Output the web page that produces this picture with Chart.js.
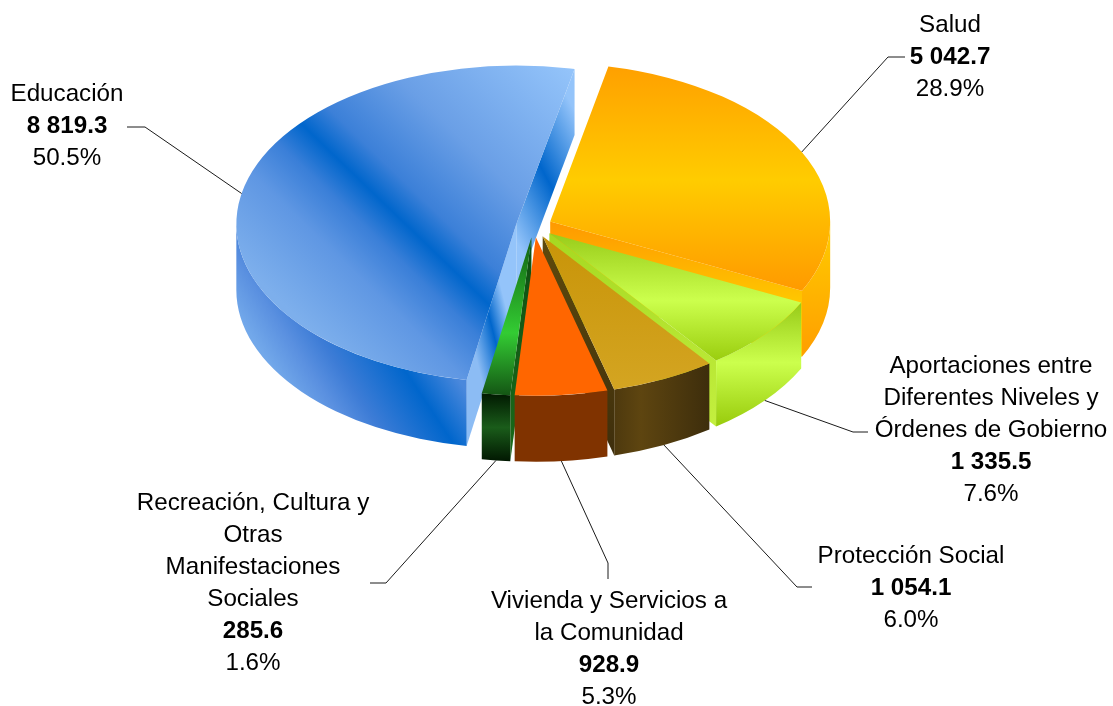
<!DOCTYPE html>
<html>
<head>
<meta charset="utf-8">
<title>Gasto por función</title>
<style>
  html, body { margin: 0; padding: 0; background: #fff; }
  canvas { display: block; }
</style>
<script src="https://cdn.jsdelivr.net/npm/chart.js@4/dist/chart.umd.js"></script>
</head>
<body>
<canvas id="pie" width="1113" height="706"></canvas>
<script>
// Data, clockwise from the Salud slice
const categories = ['Salud', 'Aportaciones entre Diferentes Niveles y Órdenes de Gobierno', 'Protección Social', 'Vivienda y Servicios a la Comunidad', 'Recreación, Cultura y Otras Manifestaciones Sociales', 'Educación'];
const amounts = [5042.7, 1335.5, 1054.1, 928.9, 285.6, 8819.3];
const percents = ['28.9%', '7.6%', '6.0%', '5.3%', '1.6%', '50.5%'];
const nameLines = [
    ['Salud'],
    ['Aportaciones entre', 'Diferentes Niveles y', 'Órdenes de Gobierno'],
    ['Protección Social'],
    ['Vivienda y Servicios a', 'la Comunidad'],
    ['Recreación, Cultura y', 'Otras', 'Manifestaciones', 'Sociales'],
    ['Educación']
];

// Look of the pie
const ROTATION = 12;
const TILT = 0.566;         // vertical squash of the disc
const DEPTH = 66;           // height of the wall
const CENTER_Y = 226;       // where the disc center lands on screen
const explode = [18, 20, 20, 20, 20, 18];
const paintOrder = [5, 0, 1, 2, 4, 3];

// Label layout: center x, y of first line, leader elbow, leader end, rim used (0 top, 1 bottom)
const labelX = [950, 991, 911, 609, 253, 67];
const labelY = [25, 366, 556, 601, 503, 94];
const elbows = [[888, 57], [853, 432], [797, 587], [608, 563], [386, 583], [145, 127]];
const leaderEnds = [[905, 57], [868, 432], [812, 587], [608, 579], [370, 583], [127, 127]];
const leaderRim = [0, 1, 1, 1, 1, 0];

// Gradients: two screen points and color stops
const topFills = [
    { p: [[0, 64], [0, 292]], s: [[0, '#ff9f00'], [0.51, '#ffcc00'], [1, '#ff9900']] },
    { p: [[0, 234], [0, 362]], s: [[0, '#99cc1a'], [0.52, '#ccff4d'], [1, '#99cc0d']] },
    { p: [[0, 236], [0, 392]], s: [[0, '#c89408'], [1, '#d4a522']] },
    { p: [[0, 238], [0, 398]], s: [[0, '#ff6600'], [1, '#ff6600']] },
    { p: [[0, 238], [0, 396]], s: [[0, '#126012'], [0.6, '#33cc33'], [1, '#145414']] },
    { p: [[296, 316], [552, 50]], s: [[0, '#7dafec'], [0.195, '#5f97e3'], [0.304, '#3a7fd8'], [0.385, '#0066cc'], [0.466, '#3c80d8'], [0.656, '#6a9fe6'], [1, '#94c4fa']] }
];
const wallFills = [
    { p: [[0, 225], [0, 350]], s: [[0, '#ffcc00'], [1, '#ffa000']] },
    { p: [[0, 305], [0, 425]], s: [[0, '#99cc1a'], [0.48, '#ccff4d'], [1, '#99cc0d']] },
    { p: [[612, 0], [708, 0]], s: [[0, '#4c380e'], [0.3, '#5e4510'], [1, '#3e2e0c']] },
    { p: [[0, 395], [0, 462]], s: [[0, '#803300'], [1, '#803300']] },
    { p: [[0, 395], [0, 460]], s: [[0, '#021c02'], [0.5, '#1a5c1a'], [1, '#021a02']] },
    { p: [[329, 453], [453, 371]], s: [[0, '#72a8ea'], [0.2, '#5a90e0'], [0.373, '#3d7cd6'], [0.733, '#0066cc'], [1, '#4a88dc']] }
];
// Cut faces: [start edge, end edge]
const cutFills = [
    [null, { p: [[0, 222], [0, 310]], s: [[0, '#ff9900'], [1, '#ffcc00']] }],
    [null, { p: [[0, 234], [0, 430]], s: [[0, '#a6d820'], [1, '#c4f040']] }],
    [null, { p: [[0, 236], [0, 455]], s: [[0, '#5f4a0c'], [1, '#3e2e0c']] }],
    [null, null],
    [{ p: [[0, 238], [0, 460]], s: [[0, '#0f4f12'], [1, '#1a6b1a']] }, null],
    [{ p: [[463, 305], [503, 295]], s: [[0, '#8cbcf4'], [0.55, '#0066cc'], [1, '#94c4fa']] },
     { p: [[495, 202], [595, 148]], s: [[0, '#94c4fa'], [0.5, '#0066cc'], [1, '#94c4fa']] }]
];

function fmt(v) {
    const parts = v.toFixed(1).split('.');
    return parts[0].replace(/\B(?=(\d{3})+$)/g, ' ') + '.' + parts[1];
}

function addStops(g, stops) {
    stops.forEach(st => g.addColorStop(st[0], st[1]));
    return g;
}

// Mid angle of a slice in canvas radians, from the values (arcs have no angles yet when options resolve)
function midAngle(i) {
    const total = amounts.reduce((a, b) => a + b, 0);
    const before = amounts.slice(0, i).reduce((a, b) => a + b, 0);
    return (ROTATION - 90) * Math.PI / 180 + (before + amounts[i] / 2) / total * 2 * Math.PI;
}

// Offset of a slice on screen
function sliceShift(i) {
    const mid = midAngle(i);
    return { x: Math.cos(mid) * explode[i], y: Math.sin(mid) * explode[i] * TILT };
}

// Gradient for the squashed top face. Takes screen points so the band keeps its screen angle.
function topGradient(ctx, fill, shift, localCy) {
    const [a, b] = fill.p;
    const dx = b[0] - a[0], dy = b[1] - a[1];
    const len2 = dx * dx + dy * dy;
    const gx = dx / len2, gy = dy * TILT / len2;
    const g2 = gx * gx + gy * gy;
    const x0 = a[0] - shift.x;
    const y0 = (a[1] - CENTER_Y - shift.y) / TILT + localCy;
    return addStops(ctx.createLinearGradient(x0, y0, x0 + gx / g2, y0 + gy / g2), fill.s);
}

function screenGradient(ctx, fill) {
    const [a, b] = fill.p;
    return addStops(ctx.createLinearGradient(a[0], a[1], b[0], b[1]), fill.s);
}

const pie3d = {
    id: 'pie3d',
    beforeDatasetsDraw(chart) {
        const ctx = chart.ctx;
        const arcs = chart.getDatasetMeta(0).data;

        // walls first, the top faces cover whatever they must
        paintOrder.forEach(i => {
            const arc = arcs[i];
            const sh = sliceShift(i);
            const cx = arc.x + sh.x;
            const cy = CENTER_Y + sh.y;
            const rx = arc.outerRadius;
            const ry = rx * TILT;

            [arc.startAngle, arc.endAngle].forEach((ang, e) => {
                const fill = cutFills[i][e];
                if (!fill) return;
                const px = cx + Math.cos(ang) * rx;
                const py = cy + Math.sin(ang) * ry;
                ctx.beginPath();
                ctx.moveTo(cx, cy);
                ctx.lineTo(px, py);
                ctx.lineTo(px, py + DEPTH);
                ctx.lineTo(cx, cy + DEPTH);
                ctx.closePath();
                ctx.fillStyle = screenGradient(ctx, fill);
                ctx.fill();
            });

            const a0 = Math.max(arc.startAngle, 0);
            const a1 = Math.min(arc.endAngle, Math.PI);
            if (a1 > a0) {
                ctx.beginPath();
                ctx.ellipse(cx, cy, rx, ry, 0, a0, a1);
                ctx.ellipse(cx, cy + DEPTH, rx, ry, 0, a1, a0, true);
                ctx.closePath();
                ctx.fillStyle = screenGradient(ctx, wallFills[i]);
                ctx.fill();
            }
        });

        // top faces through the library's own arc elements
        arcs.forEach((arc, i) => {
            const sh = sliceShift(i);
            ctx.save();
            ctx.translate(sh.x, CENTER_Y + sh.y);
            ctx.scale(1, TILT);
            ctx.translate(0, -arc.y);
            arc.draw(ctx);
            ctx.restore();
        });

        // leader lines
        ctx.strokeStyle = '#1a1a1a';
        ctx.lineWidth = 1;
        arcs.forEach((arc, i) => {
            const sh = sliceShift(i);
            const mid = midAngle(i);
            const rimX = arc.x + sh.x + Math.cos(mid) * arc.outerRadius;
            const rimY = CENTER_Y + sh.y + Math.sin(mid) * arc.outerRadius * TILT + leaderRim[i] * DEPTH;
            ctx.beginPath();
            ctx.moveTo(rimX, rimY);
            ctx.lineTo(elbows[i][0], elbows[i][1]);
            ctx.lineTo(leaderEnds[i][0], leaderEnds[i][1]);
            ctx.stroke();
        });

        // labels
        ctx.textAlign = 'center';
        ctx.textBaseline = 'middle';
        ctx.fillStyle = '#000';
        categories.forEach((name, i) => {
            let y = labelY[i];
            nameLines[i].forEach(line => {
                ctx.font = '24.2px "Liberation Sans"';
                ctx.fillText(line, labelX[i], y);
                y += 32;
            });
            ctx.font = 'bold 24.2px "Liberation Sans"';
            ctx.fillText(fmt(amounts[i]), labelX[i], y);
            y += 32;
            ctx.font = '24.2px "Liberation Sans"';
            ctx.fillText(percents[i], labelX[i], y);
        });
        return false;
    }
};

new Chart(document.getElementById('pie'), {
    type: 'pie',
    data: {
        labels: categories,
        datasets: [{
            data: amounts,
            borderWidth: 0,
            backgroundColor: c => {
                const chart = c.chart;
                if (!chart.chartArea || c.dataIndex === undefined) return '#999';
                const i = c.dataIndex;
                return topGradient(chart.ctx, topFills[i], sliceShift(i), (chart.chartArea.top + chart.chartArea.bottom) / 2);
            }
        }]
    },
    options: {
        responsive: false,
        animation: false,
        rotation: ROTATION,
        layout: { padding: { left: 254, right: 299, top: 0, bottom: 0 } },
        plugins: { legend: { display: false }, tooltip: { enabled: false } }
    },
    plugins: [pie3d]
});
</script>
</body>
</html>
